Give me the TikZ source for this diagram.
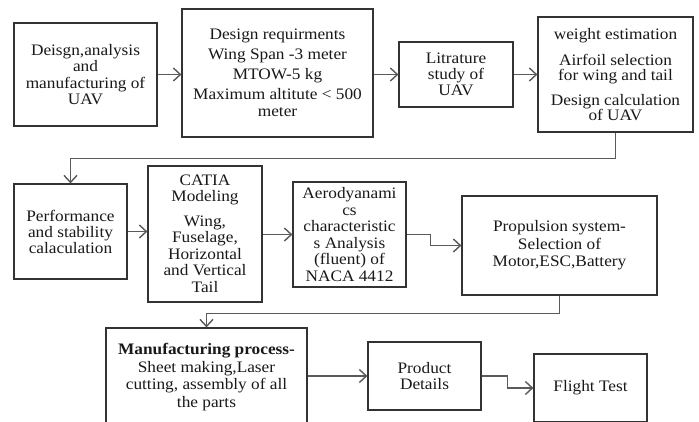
\documentclass[tikz,border=0pt]{standalone}
\usepackage{fontspec}
\setmainfont{Liberation Serif}[FakeStretch=1.08]
\usetikzlibrary{arrows.meta}
\definecolor{boxc}{HTML}{333333}
\definecolor{linec}{HTML}{5A5A5A}
\begin{document}
\begin{tikzpicture}[x=1pt,y=-1pt,
  box/.style={draw=boxc, line width=1.2pt, rectangle, inner sep=0pt, align=center,
    font=\fontsize{16}{16.5}\selectfont, text=black!90},
  conn/.style={draw=linec, line width=1.4pt, -{Straight Barb[length=7pt,width=13pt]}}]
\path[use as bounding box] (0,0) rectangle (699,421);
\fill[white] (0,0) rectangle (699,421);
\clip (0,0) rectangle (699,421);

\node[box, minimum width=143pt, minimum height=103pt] (b1) at (85.5,74.5)
  {Deisgn,analysis\\and\\manufacturing of\\UAV};
\node[box, minimum width=191pt, minimum height=128pt] (b2) at (277.5,73)
  {Design requirments\\[3.5pt]Wing Span -3 meter\\[3.5pt]MTOW-5 kg\\[3.5pt]Maximum altitute < 500\\meter};
\node[box, minimum width=114pt, minimum height=65pt] (b3) at (456,74.5)
  {Litrature\\[-0.5pt]study of\\[-0.5pt]UAV};
\node[box, minimum width=155pt, minimum height=115pt,
  font=\fontsize{16}{15}\selectfont] (b4) at (615.5,74.5)
  {weight estimation\\[11pt]Airfoil selection\\for wing and tail\\[10pt]Design calculation\\of UAV};
\node[box, minimum width=113pt, minimum height=95pt] (b5) at (70.5,231.5)
  {Performance\\[-0.5pt]and stability\\[-0.5pt]calaculation};
\node[box, minimum width=114pt, minimum height=136pt] (b6) at (205,234)
  {CATIA\\[-0.5pt]Modeling\\[8pt]Wing,\\Fuselage,\\Horizontal\\and Vertical\\Tail};
\node[box, minimum width=113pt, minimum height=105pt] (b7) at (349.5,234.5)
  {Aerodyanami\\cs\\characteristic\\s Analysis\\(fluent) of\\NACA 4412};
\node[box, minimum width=195pt, minimum height=99pt, font=\fontsize{16}{17.5}\selectfont] (b8) at (559.5,245.5)
  {Propulsion system-\\Selection of\\Motor,ESC,Battery};
\node[box, minimum width=201pt, minimum height=98pt, font=\fontsize{16}{17.5}\selectfont] (b9) at (206.5,377)
  {\textbf{Manufacturing process-}\\Sheet making,Laser\\cutting, assembly of all\\the parts};
\node[box, minimum width=113pt, minimum height=68pt] (b10) at (424.5,376)
  {Product\\Details};
\node[box, minimum width=113pt, minimum height=68pt] (b11) at (590.5,388)
  {Flight Test};

\draw[conn] (b1.east) -- (b1.east -| b2.west);
\draw[conn] (b3.west -| b2.east) -- (b3.west);
\draw[conn] (b3.east) -- (b3.east -| b4.west);
\draw[conn] (b4.south) -- ++(0,26) -| (b5.north);
\draw[conn] (b5.east) -- (b5.east -| b6.west);
\draw[conn] (b7.west -| b6.east) -- (b7.west);
\draw[conn] (b7.east) -- ++(24,0) |- (b8.west);
\draw[conn] (b8.south) -- ++(0,18) -| (b9.north);
\draw[conn] (b10.west -| b9.east) -- (b10.west);
\draw[conn] (b10.east) -- ++(26,0) |- (b11.west);
\end{tikzpicture}
\end{document}
